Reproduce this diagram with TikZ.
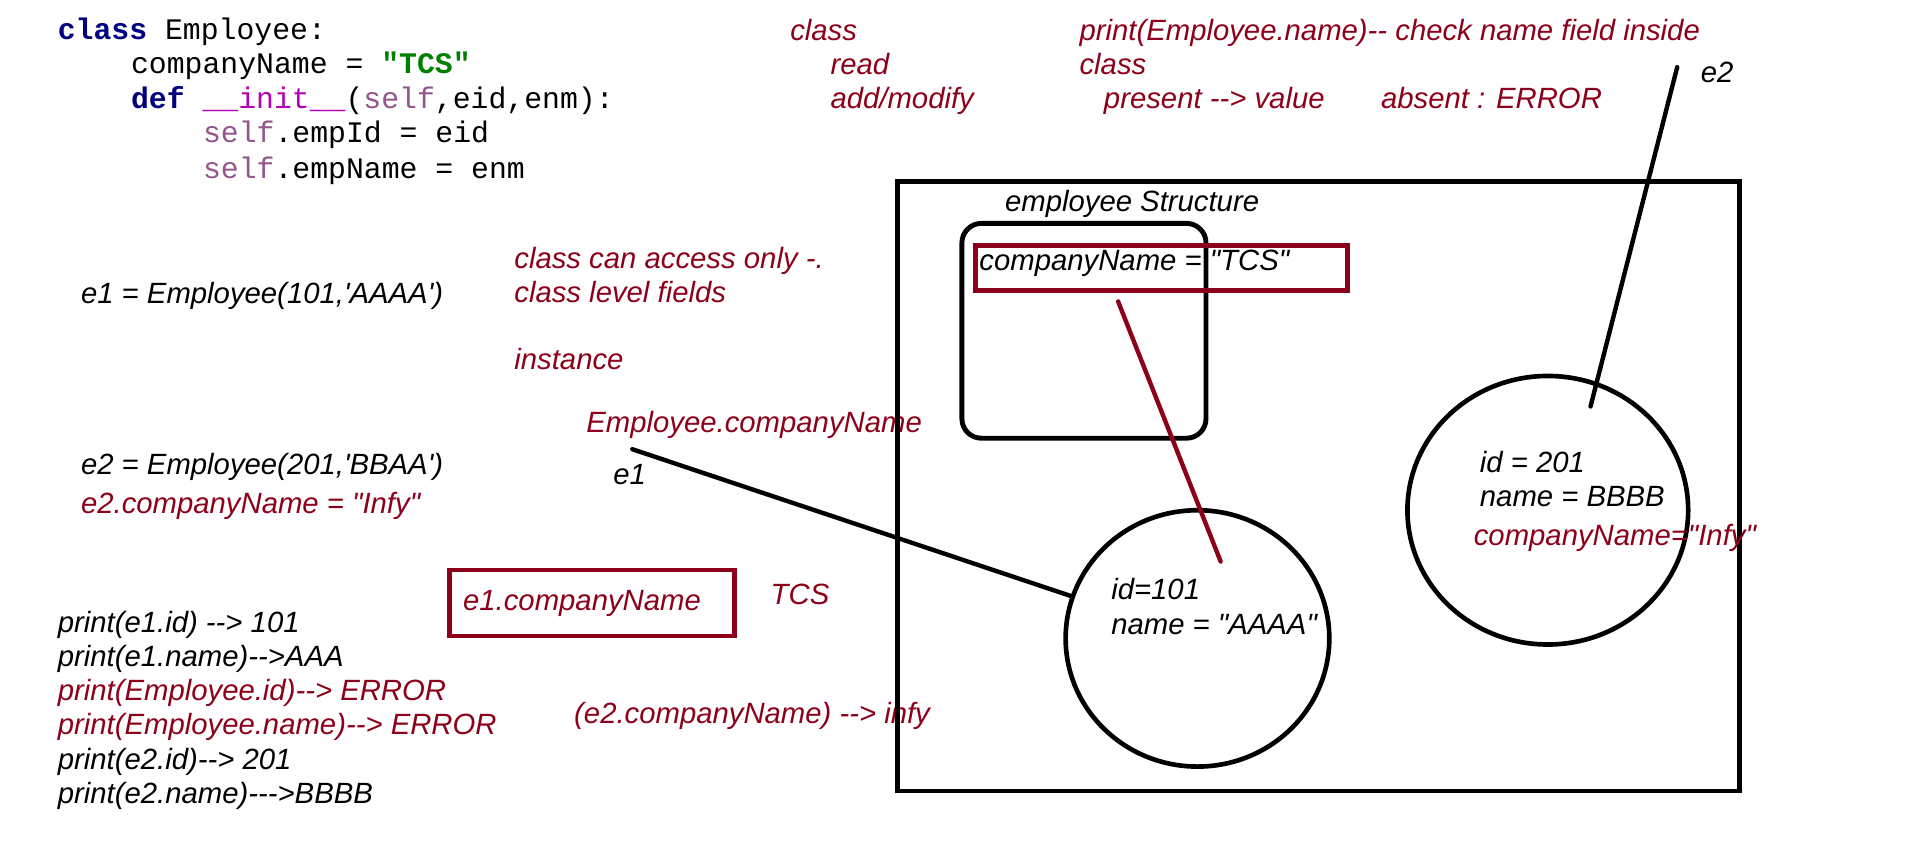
\documentclass[tikz,border=0pt]{standalone}
\usepackage{fontspec}
\setmainfont{Liberation Sans}[Ligatures=TeXOff]
\newfontfamily\codefont{Liberation Mono}[Ligatures=TeXOff]
\usetikzlibrary{shapes.geometric}
\definecolor{dred}{RGB}{140,0,26}
\definecolor{kwblue}{RGB}{0,0,128}
\definecolor{strgreen}{RGB}{0,128,0}
\definecolor{magic}{RGB}{178,0,178}
\definecolor{selfc}{RGB}{148,85,141}
\tikzset{
  txt/.style={anchor=base west, inner sep=0pt, font=\itshape\fontsize{12}{14}\selectfont},
  rtxt/.style={txt, text=dred},
  codeline/.style={anchor=base west, inner sep=0pt, font=\codefont\fontsize{12.2}{14}\selectfont},
  frame/.style={draw, line width=2pt, inner sep=0pt, anchor=north west},
  redframe/.style={draw=dred, line width=2pt, inner sep=0pt, anchor=north west},
  objell/.style={ellipse, draw, line width=1.9pt, inner sep=0pt},
  conn/.style={line width=1.8pt, line cap=round},
}
\begin{document}
\begin{tikzpicture}[x=0.5pt,y=-0.5pt]
\useasboundingbox (0,0) rectangle (1568,710.3);
% code
\node[codeline] (c1) at (47,32) {\textbf{\color{kwblue}class} Employee:};
\node[codeline] (c2) at (107,60) {companyName = \textbf{\color{strgreen}"TCS"}};
\node[codeline] (c3) at (107,89) {\textbf{\color{kwblue}def} {\color{magic}\_\_init\_\_}({\color{selfc}self},eid,enm):};
\node[codeline] (c4) at (166,117) {{\color{selfc}self}.empId = eid};
\node[codeline] (c5) at (166,146) {{\color{selfc}self}.empName = enm};
% top notes
\node[rtxt] (n1) at (647,33) {class};
\node[rtxt] (n2) at (680,61) {read};
\node[rtxt] (n3) at (680,89) {add/modify};
\node[rtxt] (n4) at (884,33) {print(Employee.name)-- check name field inside};
\node[rtxt] (n5) at (884,61) {class};
\node[rtxt] (n6) at (904,89) {present --> value};
\node[rtxt] (n7) at (1131,89) {absent : ERROR};
\node[txt] (e2lbl) at (1393,68) {e2};
% left
\node[txt] (l1) at (66,249) {e1 = Employee(101,'AAAA')};
\node[rtxt] (l2) at (421,220) {class can access only -.};
\node[rtxt] (l3) at (421,248) {class level fields};
\node[rtxt] (l4) at (421,303) {instance};
\node[rtxt] (l5) at (480,354) {Employee.companyName};
\node[txt] (e1lbl) at (502,397) {e1};
\node[txt] (l6) at (66,389) {e2 = Employee(201,'BBAA')};
\node[rtxt] (l7) at (66,421) {e2.companyName = "Infy"};
\node[redframe, minimum width=117pt, minimum height=27pt] (box1) at (366,465) {};
\node[rtxt] (l8) at (379,500) {e1.companyName};
\node[rtxt] (l9) at (631,495) {TCS};
\node[txt] (p1) at (47,518) {print(e1.id) --> 101};
\node[txt] (p2) at (47,546) {print(e1.name)-->AAA};
\node[rtxt] (p3) at (47,574) {print(Employee.id)--> ERROR};
\node[rtxt] (p4) at (47,602) {print(Employee.name)--> ERROR};
\node[txt] (p5) at (47,630) {print(e2.id)--> 201};
\node[txt] (p6) at (47,658) {print(e2.name)--->BBBB};
\node[rtxt] (l10) at (470,593) {(e2.companyName) --> infy};
% structure
\node[frame, minimum width=345pt, minimum height=249.5pt] (outer) at (733,147) {};
\node[txt] (st) at (823,173) {employee Structure};
\node[frame, rounded corners=8pt, minimum width=100pt, minimum height=88pt] (cls) at (786,181) {};
\node[redframe, minimum width=152.5pt, minimum height=18.5pt] (cbox) at (797,199) {};
\node[txt] (ctext) at (802,222) {companyName = "TCS"};
\node[objell, minimum width=108pt, minimum height=105pt] (ell1) at (981,523) {};
\node[txt] (o11) at (910,491) {id=101};
\node[txt] (o12) at (910,520) {name = "AAAA"};
\node[objell, minimum width=115pt, minimum height=110pt] (ell2) at (1268,418) {};
\node[txt] (o21) at (1212,387) {id = 201};
\node[txt] (o22) at (1212,415) {name = BBBB};
\node[rtxt] (o23) at (1207,447) {companyName="Infy"};
% connectors
\coordinate (e1start) at (518,368);
\coordinate (e2start) at (1374,55);
\coordinate (e2end) at (1303,333);
\coordinate (redstart) at (916,247);
\coordinate (redend) at (1000,460);
\draw[conn] (e1start) -- (ell1);
\draw[conn] (e2start) -- (e2end);
\draw[conn, draw=dred] (redstart) -- (redend);
\end{tikzpicture}
\end{document}
